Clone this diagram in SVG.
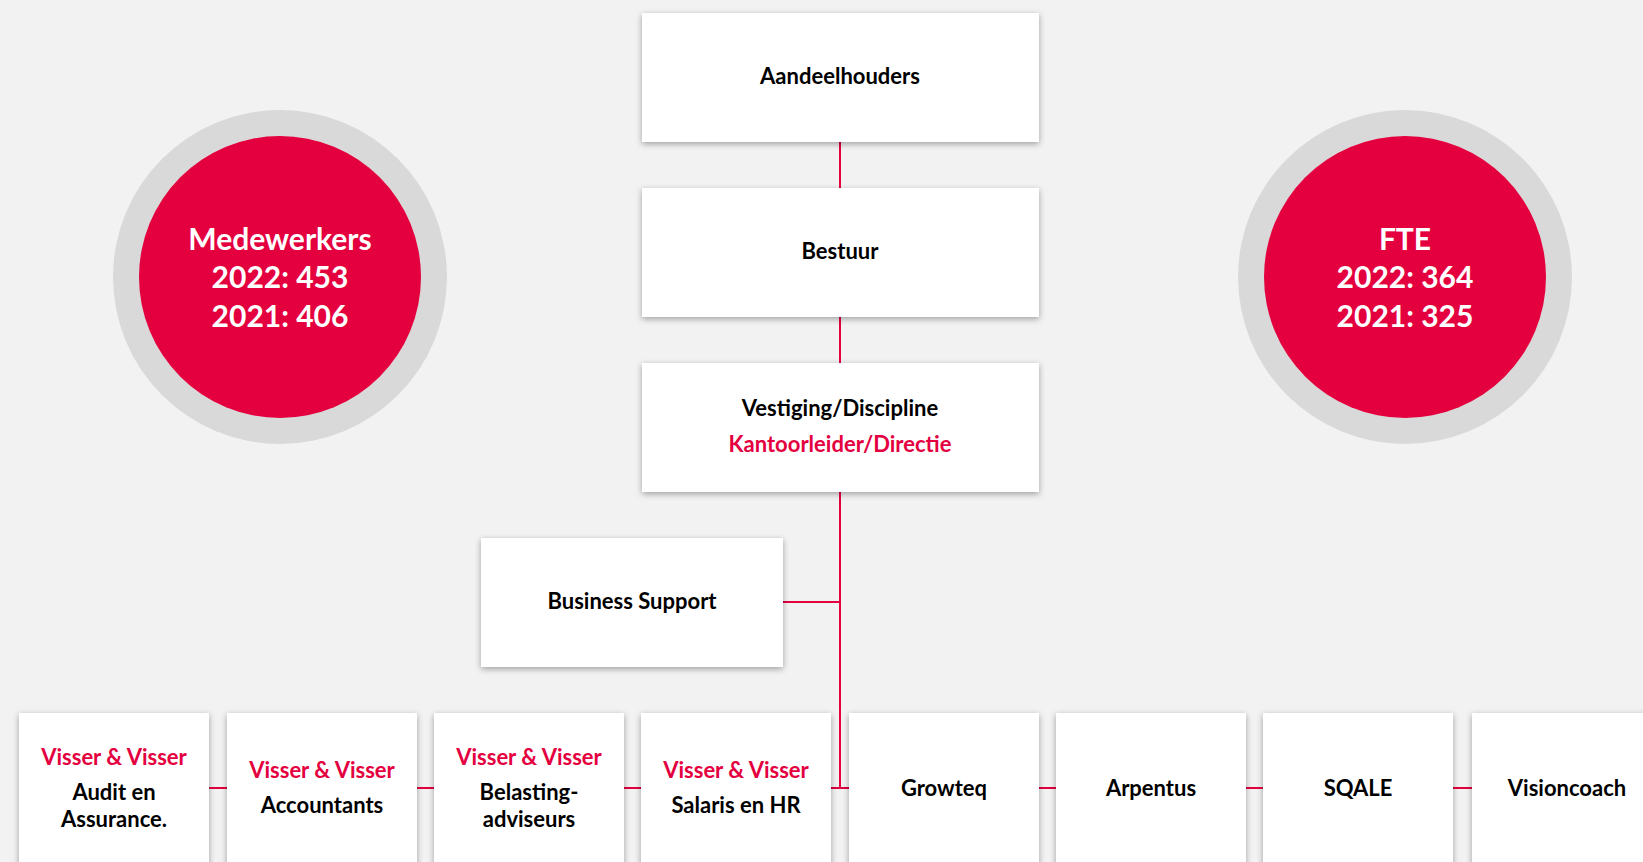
<svg xmlns="http://www.w3.org/2000/svg" width="1643" height="862" viewBox="0 0 1643 862">
<defs>
<filter id="sh" x="-10%" y="-20%" width="120%" height="140%">
<feDropShadow dx="0" dy="2" stdDeviation="3" flood-color="#000" flood-opacity="0.35"/>
</filter>
</defs>
<style>
.box{fill:#fff;filter:url(#sh)}
.t{font-family:Lato,"Open Sans","Liberation Sans",sans-serif;font-weight:bold;font-size:22px;text-anchor:middle;fill:#000}
.r{fill:#E4003F}
.ct{font-family:Lato,"Open Sans","Liberation Sans",sans-serif;font-weight:bold;font-size:30px;text-anchor:middle;fill:#fff}
.ln{stroke:#E4003F;stroke-width:2;fill:none}
</style>
<rect width="1643" height="862" fill="#F2F2F2"/>
<g id="connectors">
<line class="ln" x1="840" y1="142" x2="840" y2="188"/>
<line class="ln" x1="840" y1="317" x2="840" y2="363"/>
<line class="ln" x1="840" y1="492" x2="840" y2="788"/>
<line class="ln" x1="783" y1="602" x2="840" y2="602"/>
<line class="ln" x1="209" y1="788" x2="1472" y2="788"/>
</g>
<g id="circle-medewerkers">
<circle cx="280" cy="277" r="167" fill="#D9D9D9"/>
<circle cx="280" cy="277" r="141" fill="#E4003F"/>
<text class="ct" x="280" y="250">Medewerkers</text>
<text class="ct" x="280" y="288">2022: 453</text>
<text class="ct" x="280" y="327">2021: 406</text>
</g>
<g id="circle-fte">
<circle cx="1405" cy="277" r="167" fill="#D9D9D9"/>
<circle cx="1405" cy="277" r="141" fill="#E4003F"/>
<text class="ct" x="1405" y="250">FTE</text>
<text class="ct" x="1405" y="288">2022: 364</text>
<text class="ct" x="1405" y="327">2021: 325</text>
</g>
<g id="aandeelhouders">
<rect class="box" x="642" y="13" width="397" height="129"/>
<text class="t" x="840" y="84">Aandeelhouders</text>
</g>
<g id="bestuur">
<rect class="box" x="642" y="188" width="397" height="129"/>
<text class="t" x="840" y="259">Bestuur</text>
</g>
<g id="vestiging">
<rect class="box" x="642" y="363" width="397" height="129"/>
<text class="t" x="840" y="416">Vestiging/Discipline</text>
<text class="t r" x="840" y="452">Kantoorleider/Directie</text>
</g>
<g id="business-support">
<rect class="box" x="481" y="538" width="302" height="129"/>
<text class="t" x="632" y="609">Business Support</text>
</g>
<g id="audit">
<rect class="box" x="19" y="713" width="190" height="170"/>
<text class="t r" x="114" y="765">Visser &amp; Visser</text>
<text class="t" x="114" y="800">Audit en</text>
<text class="t" x="114" y="827">Assurance.</text>
</g>
<g id="accountants">
<rect class="box" x="227" y="713" width="190" height="170"/>
<text class="t r" x="322" y="778">Visser &amp; Visser</text>
<text class="t" x="322" y="813">Accountants</text>
</g>
<g id="belasting">
<rect class="box" x="434" y="713" width="190" height="170"/>
<text class="t r" x="529" y="765">Visser &amp; Visser</text>
<text class="t" x="529" y="800">Belasting-</text>
<text class="t" x="529" y="827">adviseurs</text>
</g>
<g id="salaris">
<rect class="box" x="641" y="713" width="190" height="170"/>
<text class="t r" x="736" y="778">Visser &amp; Visser</text>
<text class="t" x="736" y="813">Salaris en HR</text>
</g>
<g id="growteq">
<rect class="box" x="849" y="713" width="190" height="170"/>
<text class="t" x="944" y="796">Growteq</text>
</g>
<g id="arpentus">
<rect class="box" x="1056" y="713" width="190" height="170"/>
<text class="t" x="1151" y="796">Arpentus</text>
</g>
<g id="sqale">
<rect class="box" x="1263" y="713" width="190" height="170"/>
<text class="t" x="1358" y="796">SQALE</text>
</g>
<g id="visioncoach">
<rect class="box" x="1472" y="713" width="190" height="170"/>
<text class="t" x="1567" y="796">Visioncoach</text>
</g>
</svg>
